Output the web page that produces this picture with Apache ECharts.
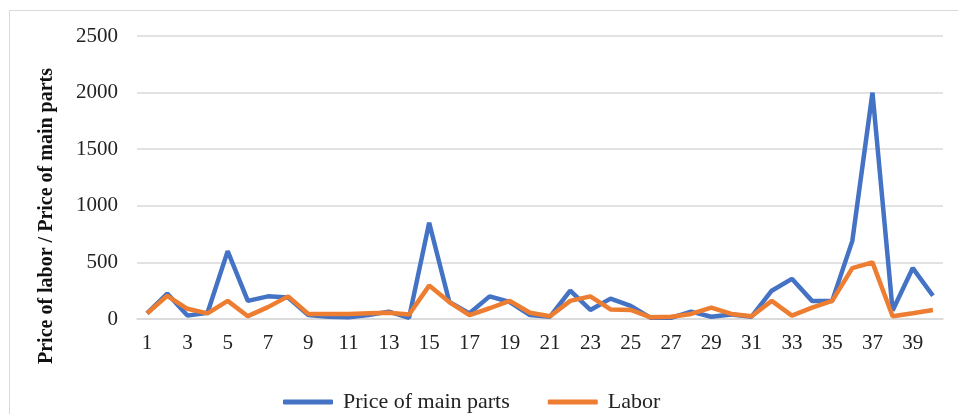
<!DOCTYPE html>
<html>
<head>
<meta charset="utf-8">
<script src="https://cdn.jsdelivr.net/npm/echarts@6/dist/echarts.min.js"></script>
<style>
  html, body { margin: 0; padding: 0; background: #fff; }
  #chart { width: 958px; height: 414px; }
</style>
</head>
<body>
<div id="chart"></div>
<script>
// categories 1..40
const categories = ['1','2','3','4','5','6','7','8','9','10','11','12','13','14','15','16','17','18','19','20',
  '21','22','23','24','25','26','27','28','29','30','31','32','33','34','35','36','37','38','39','40'];

const mainParts = [50, 225, 30, 55, 600, 160, 200, 190, 35, 20, 15, 35, 65, 10, 850, 150, 50, 200, 150, 35,
  20, 250, 80, 180, 115, 10, 10, 65, 20, 40, 20, 250, 355, 160, 160, 690, 2000, 75, 450, 205];

const labor = [50, 205, 90, 50, 160, 25, 105, 200, 45, 45, 45, 50, 55, 40, 295, 150, 35, 95, 160, 55,
  25, 160, 200, 85, 80, 15, 20, 45, 100, 45, 25, 160, 30, 100, 160, 450, 500, 25, 50, 80];

const font = '"Liberation Serif", "Times New Roman", serif';

const chart = echarts.init(document.getElementById('chart'));

chart.setOption({
  backgroundColor: '#fff',
  animation: false,
  textStyle: { fontFamily: font },
  grid: { left: 137, right: 15, top: 36, bottom: 95 },
  legend: {
    left: 278,
    top: 386,
    itemWidth: 50,
    itemHeight: 5,
    itemGap: 38,
    icon: 'roundRect',
    textStyle: { fontFamily: font, fontSize: 22, color: '#222', padding: [0, 0, 0, 5] },
    data: ['Price of main parts', 'Labor']
  },
  xAxis: {
    type: 'category',
    data: categories,
    boundaryGap: true,
    axisLine: { lineStyle: { color: '#d9d9d9', width: 1.5 } },
    axisTick: { show: false },
    axisLabel: { interval: 1, color: '#222', fontFamily: font, fontSize: 21, margin: 14 }
  },
  yAxis: {
    type: 'value',
    min: 0,
    max: 2500,
    interval: 500,
    axisLine: { show: false },
    axisTick: { show: false },
    axisLabel: {
      color: '#222', fontFamily: font, fontSize: 21, margin: 19,
      formatter: v => String(v)
    },
    splitLine: { lineStyle: { color: '#d9d9d9', width: 1.5 } }
  },
  graphic: [
    {
      type: 'rect',
      shape: { x: 9.5, y: 10.5, width: 970, height: 420 },
      style: { fill: null, stroke: '#d9d9d9', lineWidth: 1 },
      silent: true
    },
    {
      type: 'text',
      x: 47,
      y: 216,
      rotation: Math.PI / 2,
      style: {
        text: 'Price of labor / Price of main parts',
        font: 'bold 20px ' + font,
        fill: '#111',
        align: 'center',
        verticalAlign: 'middle'
      }
    }
  ],
  series: [
    {
      name: 'Price of main parts',
      type: 'line',
      data: mainParts,
      symbol: 'none',
      itemStyle: { color: '#4472C4' },
      lineStyle: { color: '#4472C4', width: 4.5 }
    },
    {
      name: 'Labor',
      type: 'line',
      data: labor,
      symbol: 'none',
      itemStyle: { color: '#ED7D31' },
      lineStyle: { color: '#ED7D31', width: 4.5 }
    }
  ]
});
</script>
</body>
</html>
